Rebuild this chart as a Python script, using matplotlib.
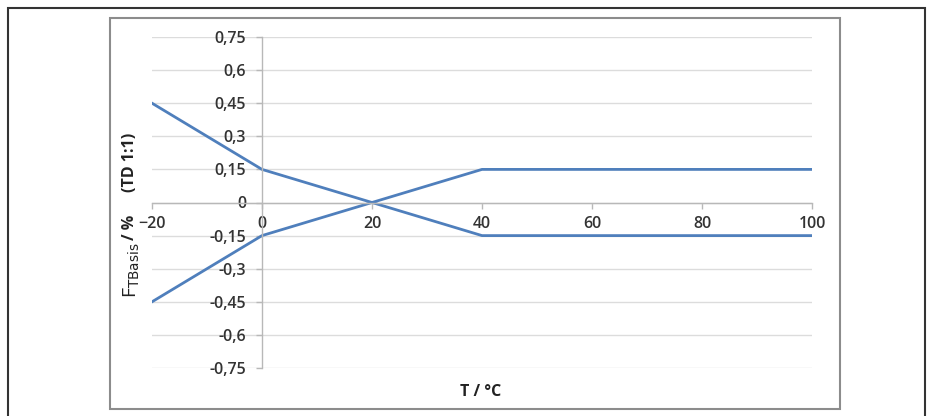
import matplotlib.pyplot as plt
from matplotlib.patches import Rectangle

# data
temps = [-20, 0, 40, 100]
f_upper = [0.45, 0.15, -0.15, -0.15]
f_lower = [-0.45, -0.15, 0.15, 0.15]
x_ticks = [-20, 0, 20, 40, 60, 80, 100]
y_ticks = [0.75, 0.6, 0.45, 0.3, 0.15, 0, -0.15, -0.3, -0.45, -0.6, -0.75]
y_tick_labels = ['0,75', '0,6', '0,45', '0,3', '0,15', '0', '-0,15', '-0,3', '-0,45', '-0,6', '-0,75']

W, H = 931, 416
fig = plt.figure(figsize=(W / 100, H / 100), dpi=100)
plt.rcParams['font.family'] = ['Open Sans', 'DejaVu Sans']

# outer frame and chart frame
fig.patches.append(Rectangle((8 / W, -0.05), 917 / W, (H - 8) / H + 0.05,
                             transform=fig.transFigure, fill=False,
                             edgecolor='#333333', linewidth=1.5))
fig.patches.append(Rectangle((110 / W, 1 - 409 / H), 730 / W, 391 / H,
                             transform=fig.transFigure, fill=False,
                             edgecolor='#8c8c8c', linewidth=1.5))

ax = fig.add_axes([152 / W, 1 - 368 / H, 660 / W, 331 / H])
ax.plot(temps, f_upper, color='#4f7fbc', linewidth=2.0, solid_joinstyle='round')
ax.plot(temps, f_lower, color='#4f7fbc', linewidth=2.0, solid_joinstyle='round')

ax.set_xlim(-20, 100)
ax.set_ylim(-0.75, 0.75)
ax.set_xticks(x_ticks)
ax.set_yticks(y_ticks)
ax.set_yticklabels(y_tick_labels)

for s in ['top', 'right']:
    ax.spines[s].set_visible(False)
ax.spines['left'].set_position(('data', 0))
ax.spines['bottom'].set_position(('data', 0))
for s in ['left', 'bottom']:
    ax.spines[s].set_color('#b8b8b8')
    ax.spines[s].set_linewidth(1.0)

ax.tick_params(axis='both', direction='out', length=4.5, width=1.0,
               color='#b8b8b8', labelsize=11.5, labelcolor='#333333')
ax.tick_params(axis='y', pad=7)
ax.tick_params(axis='x', pad=5)
for lab in ax.get_xticklabels() + ax.get_yticklabels():
    lab.set_fontweight('semibold')

ax.grid(True, axis='y', color='#dcdcdc', linewidth=1.0)
ax.set_axisbelow(True)
ax.patch.set_alpha(0)

# axis titles
fig.text(132 / W, 1 - 270 / H, r'F$_{\mathrm{TBasis}}$', rotation=90,
         ha='center', va='center', fontsize=14, color='#222222')
fig.text(130 / W, 1 - 227 / H, '/ %', rotation=90, ha='center', va='center',
         fontsize=11.5, fontweight='bold', color='#222222')
fig.text(130 / W, 1 - 162 / H, '(TD 1:1)', rotation=90, ha='center', va='center',
         fontsize=11.5, fontweight='bold', color='#222222')
fig.text(481 / W, 1 - 392 / H, 'T / °C', ha='center', va='center',
         fontsize=11.5, fontweight='bold', color='#222222')

fig.savefig('out.png', dpi=100)
